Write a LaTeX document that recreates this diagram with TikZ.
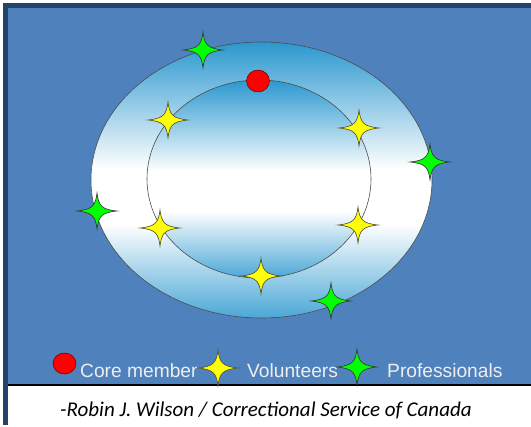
\documentclass[tikz,border=0pt]{standalone}
\usepackage{fontspec}
\setmainfont{Liberation Sans}
\newfontfamily\carlito{Carlito}
\definecolor{bgblue}{HTML}{4F81BD}
\definecolor{darkb}{HTML}{264469}
\definecolor{ringblue}{HTML}{2B98CF}
\definecolor{staryellow}{HTML}{FFFF00}
\definecolor{stargreen}{HTML}{00FF00}
\definecolor{legtext}{HTML}{EEEEEE}
\pgfdeclareverticalshading{ringshade}{100bp}{color(0bp)=(ringblue!85!white); color(25bp)=(ringblue!85!white); color(42bp)=(white); color(52bp)=(white); color(75bp)=(ringblue); color(100bp)=(ringblue)}
\tikzset{
  star4/.pic={\path[pic actions] (0,-18) .. controls (1.5,-5) and (5,-1.5) .. (20,0)
     .. controls (5,1.5) and (1.5,5) .. (0,18)
     .. controls (-1.5,5) and (-5,1.5) .. (-20,0)
     .. controls (-5,-1.5) and (-1.5,-5) .. cycle;},
  vol/.style={fill=staryellow, draw=black!60!olive, line width=0.6pt},
  pro/.style={fill=stargreen, draw=black!80, line width=0.6pt},
  core/.style={fill=red, draw=red!40!black, line width=0.5pt},
  ring/.style={shading=ringshade, draw=black!70, line width=0.6pt},
  legend/.style={anchor=base west, text=legtext, font=\fontsize{19.2}{19}\selectfont, inner sep=0pt},
  credit/.style={anchor=base, text=black, font=\carlito\itshape\fontsize{21}{22}\selectfont, inner sep=0pt}
}
\begin{document}
\begin{tikzpicture}[x=1pt, y=-1pt]
\useasboundingbox (0,0) rectangle (531,427);
\fill[white] (0,0) rectangle (531,427);
% frame
\fill[darkb] (3,3) rectangle (531,8);
\fill[darkb] (3,3) rectangle (8,425);
\fill[bgblue] (8,8) rectangle (531,384);
\fill[black] (8,384) rectangle (531,386);
% rings
\path[ring] (261.5,180) ellipse [x radius=170.5, y radius=138];
\path[ring] (259,179) ellipse [x radius=112, y radius=99];
% core member
\path[core] (258,81) ellipse [x radius=11.5, y radius=11];
% volunteers
\pic[vol] at (168,120) {star4};
\pic[vol] at (359,128) {star4};
\pic[vol] at (160,228) {star4};
\pic[vol] at (358,225) {star4};
\pic[vol] at (261,276) {star4};
% professionals
\pic[pro] at (203,50) {star4};
\pic[pro] at (430,162) {star4};
\pic[pro] at (97,211) {star4};
\pic[pro] at (331,301) {star4};
% legend
\path[core] (64.5,363.5) ellipse [x radius=11.5, y radius=10.5];
\node[legend] (lcore) at (80,378) {Core member};
\node[legend] (lvol) at (247,378) {Volunteers};
\node[legend] (lpro) at (387,378) {Professionals};
\pic[vol] at (218,368) {star4};
\pic[pro] at (357,367) {star4};
% credit
\node[credit] (cred) at (266,417) {-Robin J. Wilson / Correctional Service of Canada};
\end{tikzpicture}
\end{document}
